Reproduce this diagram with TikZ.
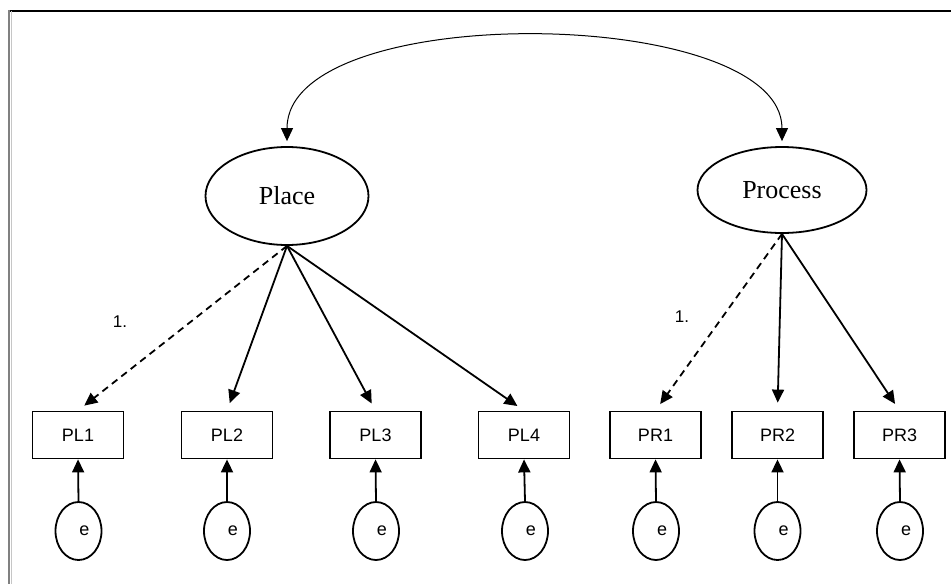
\documentclass[tikz,border=0pt]{standalone}
\usepackage{fontspec}
\setmainfont{Liberation Serif}
\newfontfamily\arial{Liberation Sans}
\usetikzlibrary{shapes.geometric,arrows.meta}

\tikzset{
  latent/.style={ellipse, draw, line width=1.8pt, inner sep=0pt,
    font=\fontsize{26}{28}\selectfont},
  item/.style={rectangle, draw, line width=1.8pt, inner sep=0pt,
    minimum width=91pt, minimum height=47pt, font=\arial\fontsize{18}{20}\selectfont},
  err/.style={ellipse, draw, line width=1.8pt, inner sep=0pt,
    minimum width=46pt, minimum height=58pt, font=\arial\fontsize{18}{20}\selectfont},
  load/.style={-{Triangle[length=13pt,width=12pt]}, line width=1.8pt, shorten >=8pt},
}

\begin{document}
\begin{tikzpicture}[x=1pt,y=-1pt]
\useasboundingbox (0,0) rectangle (951,584);

% frame
\draw[line width=1.5pt] (8,11)--(951,11);
\draw[gray, line width=2pt] (8.5,10)--(8.5,584);
\draw[gray!45, line width=1pt] (11.5,11)--(11.5,584);

% factors
\node[latent, minimum width=163pt, minimum height=98pt] (place) at (287,196) {Place};
\node[latent, minimum width=169pt, minimum height=86pt] (process) at (782,190) {Process};

\draw[{Triangle[length=13pt,width=12pt]}-{Triangle[length=13pt,width=12pt]}, line width=1pt, shorten <=5pt, shorten >=5pt]
  (place.north) .. controls +(0,-147) and +(0,-141) .. (process.north);

% indicators
\node[item] (pl1) at (78,435) {PL1};
\node[item] (pl2) at (227,435) {PL2};
\node[item] (pl3) at (375.5,435) {PL3};
\node[item] (pl4) at (524,435) {PL4};
\node[item] (pr1) at (655.5,435) {PR1};
\node[item] (pr2) at (777.5,435) {PR2};
\node[item] (pr3) at (899.5,435) {PR3};

\draw[load, dashed, dash pattern=on 7pt off 5pt](place.south)--(pl1.north);
\draw[load](place.south)--(pl2.north);
\draw[load](place.south)--(pl3.north);
\draw[load](place.south)--(pl4.north);

\draw[load, dashed, dash pattern=on 7pt off 5pt](process.south)--(pr1.north);
\draw[load](process.south)--(pr2.north);
\draw[load](process.south)--(pr3.north);

\node[font=\arial\fontsize{17}{19}\selectfont] (fix1) at (120,322) {1.};
\node[font=\arial\fontsize{17}{19}\selectfont] (fix2) at (682,317) {1.};

% errors
\foreach \v/\x in {pl1/78.5, pl2/227, pl3/376, pl4/525, pr1/656, pr2/777.5, pr3/900}{
  \node[err] (e\v) at (\x,531) {\hspace*{12pt}e};
  \draw[-{Triangle[length=13pt,width=12pt]}, line width=1.8pt] (e\v.north)--(\v.south);
}

\end{tikzpicture}
\end{document}
